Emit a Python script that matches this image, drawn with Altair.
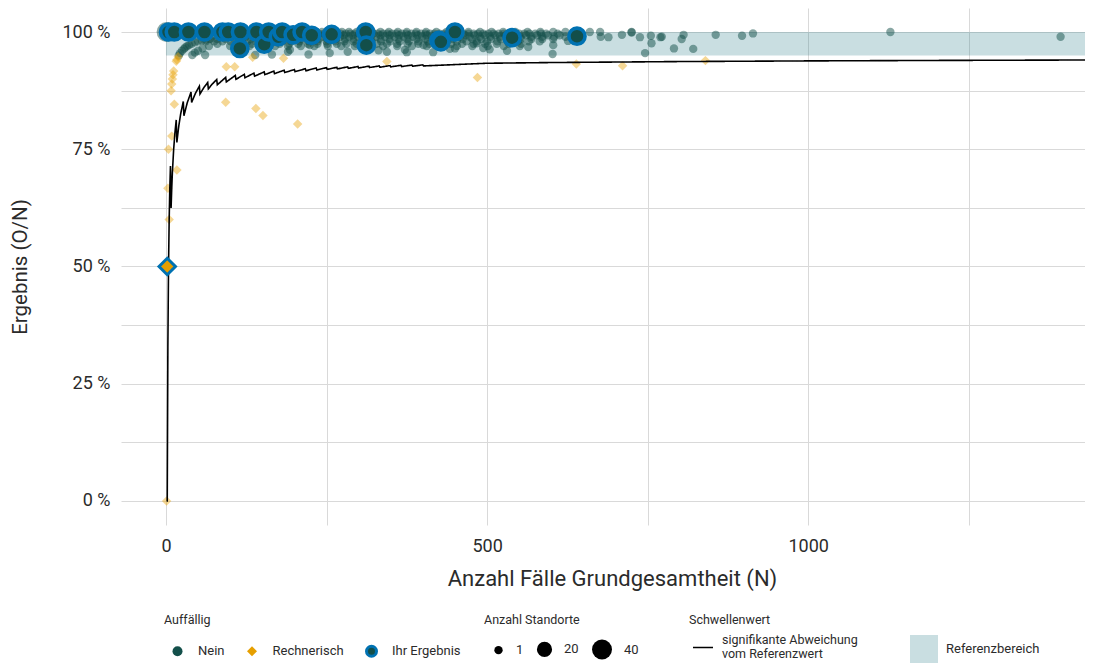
import altair as alt
import pandas as pd

# ---------------- data ----------------
# Schwellenwert: signifikante Abweichung vom Referenzwert
line_n = [1, 2, 3, 4, 5, 6, 7, 8, 9, 10, 12, 14, 16, 17, 20, 23, 27, 28, 33, 39, 40, 46, 52, 53, 59, 65,
          66, 72, 79, 80, 93, 94, 108, 109, 122, 123, 137, 138, 153, 154, 168, 169, 184, 185, 200, 201,
          217, 218, 234, 235, 250, 251, 266, 267, 283, 284, 299, 300, 316, 317, 332, 333, 349, 350, 366,
          367, 383, 384, 400, 401, 500, 600, 800, 1000, 1200, 1400, 1450]
line_val = [0.0, 0.0, 0.3333, 0.5, 0.6, 0.6667, 0.7143, 0.625, 0.6667, 0.7, 0.75, 0.7857, 0.8125, 0.7647,
            0.8, 0.8261, 0.8519, 0.8214, 0.8485, 0.8718, 0.85, 0.8696, 0.8846, 0.8679, 0.8814, 0.8923,
            0.8788, 0.8889, 0.8987, 0.8875, 0.9032, 0.8936, 0.9074, 0.8991, 0.9098, 0.9024, 0.9124, 0.9058,
            0.9150, 0.9091, 0.9167, 0.9112, 0.9185, 0.9135, 0.92, 0.9154, 0.9217, 0.9174, 0.9231, 0.9191,
            0.924, 0.9203, 0.9248, 0.9213, 0.9258, 0.9225, 0.9264, 0.9233, 0.9272, 0.9243, 0.9277, 0.9249,
            0.9284, 0.9257, 0.9290, 0.9264, 0.9295, 0.9271, 0.93, 0.9277, 0.9334, 0.9349, 0.9370, 0.9384,
            0.9394, 0.9402, 0.9404]
line_label = "signifikante Abweichung vom Referenzwert"

# Referenzbereich
ref_lo = [0.95]
ref_hi = [1.0]
ref_from = [0]
ref_to = [1500]
ref_label = "Referenzbereich"

# Auffällig = Nein  (N, Ergebnis, Anzahl Standorte)
nein_small_n = [1, 2, 3, 4, 5, 6, 7, 8, 9, 10, 11, 12, 13, 14, 15, 16, 17, 18, 19, 20]
nein_small_cnt = [40, 24, 16, 12, 9, 8, 6, 5, 5, 4, 4, 3, 3, 3, 2, 2, 2, 2, 2, 2]
nein_100_n = [22, 24, 26, 28, 31, 33, 36, 38, 41, 44, 47, 49, 52, 55, 59, 63, 66, 70, 74, 77, 81, 85, 89,
              94, 99, 103, 108, 113, 119, 124, 130, 136, 142, 148, 155, 161, 168, 175, 183, 191, 199, 208,
              216, 225, 234, 243, 253, 263, 274, 285, 297, 309, 321, 334, 347, 361, 375, 390, 405, 421,
              437, 454, 471, 489, 507, 525, 544, 563, 583, 603, 622, 660, 676, 725, 1128]
nein_9965_n = [205, 212, 218, 225, 231, 238, 246, 252, 258, 265, 272, 280, 287, 294, 301, 309, 316, 323,
               330, 338, 345, 352, 359, 367, 374, 382, 389, 397, 404, 411, 418, 426, 433, 441, 448, 456,
               463, 471, 479, 486, 494, 502, 510, 518, 526, 534, 542, 550, 558, 566, 575, 584, 592, 610]
nein_993_n = [140, 152, 166, 178, 193, 207, 221, 235, 249, 263, 277, 291, 305, 319, 334, 348, 363, 377,
              392, 406, 421, 436, 451, 466, 481, 497, 513, 529, 545, 561, 578, 595, 613]
nein_99_n = [100, 112, 124, 137, 149, 162, 176, 189, 203, 216, 230, 244, 257, 271, 285, 299, 313, 327,
             341, 356, 370, 384, 399, 414, 428, 443, 458, 473, 489, 505, 520, 536, 552, 569, 586, 604, 622]
nein_985_n = [68, 80, 93, 106, 119, 132, 145, 158, 171, 184, 197, 211, 224, 238, 251, 265, 279, 292, 306,
              320, 334, 348, 362, 376, 390, 404, 419, 433, 447, 462, 477, 491, 506, 521, 537, 553, 569,
              586, 603]
nein_98_n = [50, 62, 75, 88, 101, 114, 127, 140, 154, 167, 181, 195, 208, 222, 236, 250, 264, 278, 292,
             306, 320, 335, 349, 364, 378, 393, 408, 423, 438, 453, 468, 484, 500, 516, 532, 548, 565, 582]
nein_975_n = [40, 80, 120, 134, 148, 163, 177, 192, 206, 221, 236, 251, 266, 281, 297, 312, 328, 344, 360,
              376, 393, 410, 427, 444, 461, 479, 497, 515, 534, 553]
nein_97_n = [33, 67, 100, 130, 150, 170, 190, 210, 231, 252, 273, 294, 316, 338, 360, 383, 406, 429, 453,
             477, 501, 526, 551]
nein_free_n = [20, 22, 25, 28, 30, 36, 45, 56, 62, 70, 90, 45, 50, 57, 41, 61, 139, 165, 190, 193, 222,
               224, 255, 283, 313, 331, 344, 372, 375, 401, 416, 442, 450, 484, 494, 504, 531, 564, 602,
               603, 626, 746, 791, 821, 756, 738, 677, 689, 710, 725, 755, 772, 770, 803, 806, 856, 897,
               914, 1393]
nein_free_rate = [0.950, 0.955, 0.960, 0.964, 0.967, 0.972, 0.978, 0.982, 0.984, 0.986, 0.989, 0.956,
                  0.960, 0.965, 0.951, 0.951, 0.951, 0.952, 0.958, 0.962, 0.952, 0.972, 0.955, 0.958,
                  0.965, 0.961, 0.958, 0.962, 0.957, 0.972, 0.957, 0.964, 0.965, 0.976, 0.966, 0.963,
                  0.960, 0.968, 0.953, 0.972, 0.981, 0.955, 0.965, 0.964, 0.976, 0.989, 0.990, 0.989,
                  0.994, 0.999, 0.992, 0.990, 0.989, 0.985, 0.994, 0.994, 0.992, 0.997, 0.990]

# Auffällig = Rechnerisch
rech_n = [1, 3, 5, 4, 9, 17, 13, 8, 9, 10, 11, 12, 16, 17, 19, 94, 107, 135, 183, 344, 485, 93, 140,
          151, 205, 639, 711, 840]
rech_rate = [0.0, 0.667, 0.6, 0.75, 0.778, 0.706, 0.846, 0.875, 0.889, 0.9, 0.909, 0.917, 0.9375, 0.941,
             0.947, 0.926, 0.926, 0.946, 0.944, 0.937, 0.903, 0.85, 0.837, 0.822, 0.804, 0.932, 0.928,
             0.939]

# Ihr Ergebnis
hl_n = [4, 13, 35, 60, 88, 97, 116, 115, 141, 153, 160, 175, 181, 198, 212, 227, 258, 311, 312, 425,
        428, 450, 539, 640]
hl_rate = [1, 1, 1, 1, 1, 1, 1, 0.965, 1, 0.974, 1, 0.99, 1, 0.994, 1, 0.993, 0.995, 1, 0.972, 0.982,
           0.979, 1, 0.988, 0.991]
hl_rech_n = [2]
hl_rech_rate = [0.5]

cat_domain = ["Nein", "Rechnerisch", "Ihr Ergebnis"]
x_ticks = [0, 250, 500, 750, 1000, 1250]
y_ticks = [0, 0.125, 0.25, 0.375, 0.5, 0.625, 0.75, 0.875, 1.0]

# ---------------- tables ----------------
nein_rows = []
for n, c in zip(nein_small_n, nein_small_cnt):
    nein_rows.append((n, 1.0, c))
for lst, r in [(nein_100_n, 1.0), (nein_9965_n, 0.9965), (nein_993_n, 0.993), (nein_99_n, 0.99),
               (nein_985_n, 0.985), (nein_98_n, 0.98), (nein_975_n, 0.975), (nein_97_n, 0.97)]:
    for n in lst:
        nein_rows.append((n, r, 1))
for n, r in zip(nein_free_n, nein_free_rate):
    nein_rows.append((n, r, 1))
nein_df = pd.DataFrame(nein_rows, columns=["N", "rate", "count"])
nein_df["cat"] = "Nein"

rech_df = pd.DataFrame({"N": rech_n, "rate": rech_rate, "cat": "Rechnerisch"})
hl_df = pd.DataFrame({"N": hl_n, "rate": hl_rate, "cat": "Ihr Ergebnis"})
hl_rech_df = pd.DataFrame({"N": hl_rech_n, "rate": hl_rech_rate})
line_df = pd.DataFrame({"N": line_n, "rate": line_val, "lab": line_label})
band_df = pd.DataFrame({"x0": ref_from, "x1": ref_to, "lo": ref_lo, "hi": ref_hi, "lab": ref_label})

# ---------------- styling ----------------
FONT = "Roboto"
TXT = "#2b2b2b"
DARK = "#134f4a"
ORANGE = "#e69f00"
BLUE = "#0072b2"

xscale = alt.Scale(domain=[-70, 1431], nice=False, zero=False)
yscale = alt.Scale(domain=[-0.0512, 1.0512], nice=False, zero=False)
x_axis = alt.Axis(values=x_ticks, labelExpr="datum.value % 500 == 0 ? format(datum.value, 'd') : ''",
                  grid=True, ticks=False, domain=False, labelFontSize=18, labelPadding=12,
                  titleFontSize=22, titleX=491, titleY=53, titleBaseline="middle")
y_axis = alt.Axis(values=y_ticks,
                  labelExpr="round(datum.value * 8) % 2 == 0 ? format(datum.value * 100, 'd') + ' %' : ''",
                  grid=True, ticks=False, domain=False, labelFontSize=18, labelPadding=11,
                  titleFontSize=20.5, titleX=-101, titleY=258.5, titleAngle=270, titleAlign="center",
                  titleBaseline="middle")
XT = "Anzahl Fälle Grundgesamtheit (N)"
YT = "Ergebnis (O/N)"


def X(field="N"):
    return alt.X(f"{field}:Q", scale=xscale, axis=x_axis, title=XT)


def Y(field="rate"):
    return alt.Y(f"{field}:Q", scale=yscale, axis=y_axis, title=YT)


leg_cat = alt.Legend(title="Auffällig", orient="none", legendX=43, legendY=606, direction="horizontal",
                     symbolSize=100, symbolStrokeWidth=3, symbolOpacity=1, columnPadding=13.5,
                     labelOffset=14, symbolOffset=7, titlePadding=18)
fill_enc = alt.Fill("cat:N", scale=alt.Scale(domain=cat_domain, range=[DARK, ORANGE, DARK]), legend=leg_cat)
shape_enc = alt.Shape("cat:N", scale=alt.Scale(domain=cat_domain, range=["circle", "diamond", "circle"]),
                      legend=leg_cat)
stroke_enc = alt.Stroke("cat:N", scale=alt.Scale(domain=cat_domain,
                                                 range=["transparent", "transparent", BLUE]), legend=leg_cat)

leg_size = alt.Legend(title="Anzahl Standorte", orient="none", legendX=363, legendY=606,
                      direction="horizontal", values=[1, 20, 40], symbolType="circle",
                      symbolFillColor="black", symbolStrokeColor="transparent", symbolOpacity=1,
                      columnPadding=4, labelOffset=11, symbolOffset=8, titlePadding=12)
size_enc = alt.Size("count:Q", scale=alt.Scale(domain=[1, 40], range=[70, 400], type="linear"),
                    legend=leg_size)

leg_line = alt.Legend(title="Schwellenwert", orient="none", legendX=568, legendY=606,
                      direction="horizontal", symbolType="stroke", symbolSize=400,
                      symbolStrokeColor="black", symbolStrokeWidth=1.6,
                      labelExpr="['signifikante Abweichung', 'vom Referenzwert']",
                      labelBaseline="line-bottom", labelFontSize=12.5,
                      labelOffset=8, symbolOffset=3, titlePadding=10)
leg_band = alt.Legend(title=None, orient="none", legendX=789, legendY=627, symbolType="square",
                      symbolSize=784, symbolOpacity=0.25, symbolStrokeWidth=0, labelOffset=8)

band = alt.Chart(band_df).mark_rect(opacity=0.25, clip=True).encode(
    x=X("x0"), x2="x1:Q", y=Y("lo"), y2="hi:Q",
    color=alt.Color("lab:N", scale=alt.Scale(range=["#277b87"]), legend=leg_band))

nein = alt.Chart(nein_df).mark_point(filled=True, opacity=0.5, strokeWidth=0).encode(
    x=X(), y=Y(), fill=fill_enc, shape=shape_enc, stroke=stroke_enc, size=size_enc)

rech = alt.Chart(rech_df).mark_point(filled=True, opacity=0.42, strokeWidth=0, size=90).encode(
    x=X(), y=Y(), fill=fill_enc, shape=shape_enc, stroke=stroke_enc)

line = alt.Chart(line_df).mark_line(color="black", strokeWidth=1.6, clip=True).encode(
    x=X(), y=Y(), strokeDash=alt.StrokeDash("lab:N", scale=alt.Scale(range=[[1, 0]]), legend=leg_line))

hl = alt.Chart(hl_df).mark_point(filled=True, opacity=1, strokeWidth=3.6, size=260).encode(
    x=X(), y=Y(), fill=fill_enc, shape=shape_enc, stroke=stroke_enc)

hl_rech = alt.Chart(hl_rech_df).mark_point(filled=True, opacity=1, shape="diamond", fill=ORANGE,
                                           stroke=BLUE, strokeWidth=3, size=270).encode(x=X(), y=Y())

chart = alt.layer(band, nein, rech, line, hl, hl_rech).properties(
    width=964, height=517,
    padding={"left": 113, "top": 0, "right": 0, "bottom": 139},
    autosize=alt.AutoSizeParams(type="none"),
).configure_view(strokeWidth=0).configure_axis(
    labelFont=FONT, titleFont=FONT, labelColor=TXT, titleColor=TXT, titleFontWeight="normal",
    gridColor="#d9d9d9", gridWidth=1,
).configure_legend(
    labelFont=FONT, titleFont=FONT, labelColor=TXT, titleColor=TXT, titleFontWeight="normal",
    labelFontSize=13, titleFontSize=12.5, padding=0, symbolBaseFillColor="black",
)

chart.save("out.html", embed_options={"renderer": "svg", "actions": False})
